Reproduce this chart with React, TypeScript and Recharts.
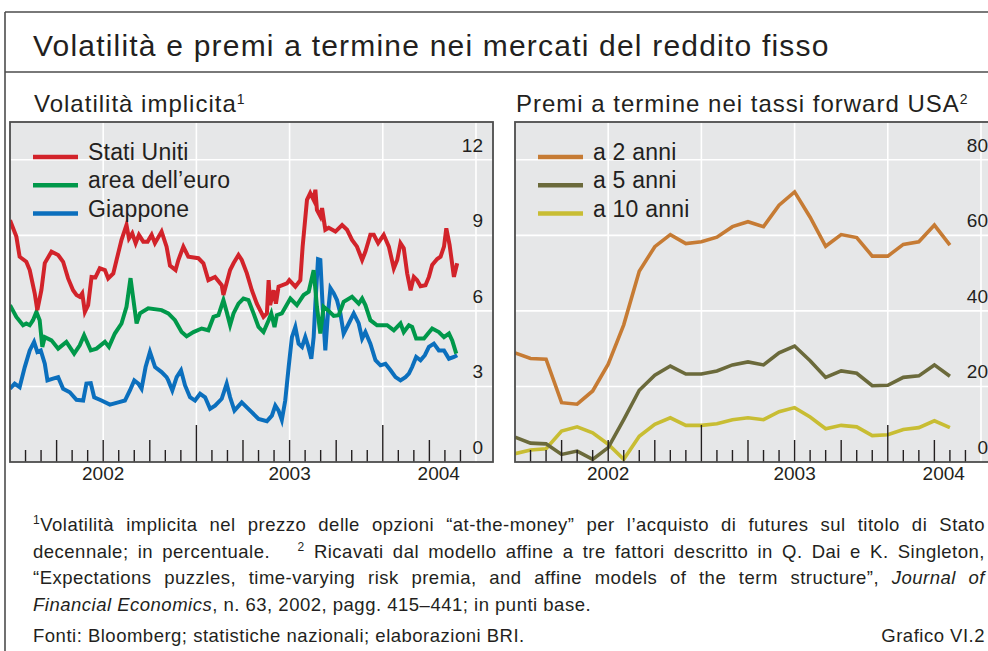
import React from 'react';
import { LineChart, Line, XAxis, YAxis, CartesianGrid } from 'recharts';

const FONT = '"Liberation Sans", Arial, sans-serif';
const INK = '#231f20';
const FRAME = '#4d4d4d';
const PLOT_BG = '#e6e7e8';

// x is measured in months from the start of January 2002
const X_MAX = 31.16;
const PLOT_W = 483;
const PLOT_H = 340;

const monthTicks = [1, 2, 3, 4, 5, 6, 7, 8, 9, 10, 11, 12, 13, 14, 15, 16, 17, 18, 19, 20, 21, 22, 23, 24, 25, 26, 27, 28, 29];
const gridMonths = [6, 12, 18, 24, 30];
const yearTickPos = [6, 18, 27.6];
const yearLabels = ['2002', '2003', '2004'];

const volTicks = [0, 3, 6, 9, 12];
const premTicks = [0, 20, 40, 60, 80];

// implied volatility, [month, percent]
const usVol: [number, number][] = [
  [0, 9.6], [0.41, 8.95], [0.62, 8.15], [1.05, 7.95], [1.27, 7.62], [1.59, 6.7], [1.76, 6.03], [2.02, 6.82],
  [2.24, 7.9], [2.67, 8.35], [3.1, 8.22], [3.42, 7.95], [3.74, 7.29], [4.06, 6.82], [4.28, 6.63], [4.49, 6.56],
  [4.65, 6.7], [4.82, 5.96], [5.03, 6.23], [5.25, 7.35], [5.5, 7.33], [5.78, 7.69], [6.11, 7.62], [6.32, 7.29],
  [6.65, 7.49], [6.86, 8.02], [7.18, 8.82], [7.5, 9.41], [7.66, 8.88], [7.87, 9.08], [8.09, 8.69], [8.3, 9.02],
  [8.58, 8.75], [8.86, 8.75], [9.12, 9.02], [9.33, 8.69], [9.76, 9.15], [10.08, 8.55], [10.3, 7.8], [10.66, 7.62],
  [10.84, 8.02], [11.16, 8.55], [11.48, 8.15], [12.13, 8.09], [12.45, 7.89], [12.77, 7.22], [13.2, 7.35], [13.63, 7.02],
  [13.74, 6.63], [14.17, 7.62], [14.39, 7.89], [14.71, 8.22], [14.92, 8.02], [15.25, 7.49], [15.57, 6.82], [15.89, 6.29],
  [16.32, 5.76], [16.54, 5.9], [16.65, 7.22], [16.75, 6.23], [16.97, 6.82], [17.12, 6.29], [17.29, 6.96], [17.83, 7.09],
  [17.98, 7.22], [18.37, 6.96], [18.69, 7.22], [18.84, 8.55], [19.12, 10.41], [19.33, 10.68], [19.55, 10.41], [19.66, 10.81],
  [19.76, 10.01], [19.98, 9.75], [20.09, 10.08], [20.3, 9.22], [20.52, 9.3], [20.95, 9.15], [21.38, 9.41], [21.7, 9.22],
  [22.02, 8.82], [22.34, 8.55], [22.67, 8.02], [22.88, 8.35], [23.2, 9.02], [23.42, 9.02], [23.7, 8.69], [24.06, 9.02],
  [24.39, 8.55], [24.71, 7.69], [24.93, 8.02], [25.14, 8.69], [25.35, 8.49], [25.57, 7.49], [25.79, 6.82], [26.0, 7.35],
  [26.21, 7.22], [26.43, 6.98], [26.75, 7.02], [26.97, 7.35], [27.18, 7.82], [27.5, 8.06], [27.72, 8.15], [27.94, 8.55],
  [28.09, 9.28], [28.3, 8.62], [28.58, 7.35], [28.79, 7.89],
];

const euroVol: [number, number][] = [
  [0, 6.23], [0.41, 5.76], [0.84, 5.43], [1.05, 5.5], [1.27, 5.43], [1.48, 5.63], [1.7, 5.96], [1.91, 5.63],
  [2.08, 4.57], [2.24, 4.96], [2.67, 4.83], [3.1, 4.5], [3.63, 4.77], [4.13, 4.3], [4.49, 4.63], [4.77, 5.03],
  [5.2, 4.43], [5.57, 4.5], [6.11, 4.77], [6.37, 4.57], [6.75, 5.1], [7.18, 5.5], [7.5, 6.16], [7.76, 7.3],
  [8.15, 5.5], [8.37, 5.9], [8.9, 6.1], [9.76, 6.03], [10.19, 5.9], [10.62, 5.63], [11.05, 5.16], [11.37, 4.99],
  [11.81, 5.16], [12.34, 5.3], [12.77, 5.23], [13.1, 5.76], [13.42, 5.83], [13.74, 6.43], [13.95, 5.96], [14.17, 5.43],
  [14.39, 5.9], [14.71, 6.29], [15.03, 6.49], [15.35, 6.43], [15.68, 5.9], [16.0, 5.36], [16.32, 5.16], [16.65, 5.63],
  [16.82, 5.9], [17.03, 5.36], [17.18, 5.83], [17.5, 5.9], [18.05, 6.49], [18.47, 6.23], [18.9, 6.63], [19.23, 6.76],
  [19.55, 7.62], [19.76, 6.16], [19.98, 5.1], [20.19, 6.16], [20.52, 6.0], [20.84, 5.8], [21.16, 5.83], [21.48, 6.36],
  [22.02, 6.56], [22.45, 6.29], [22.67, 6.49], [22.88, 6.23], [23.2, 5.63], [23.63, 5.43], [24.28, 5.43], [24.71, 5.23],
  [25.14, 5.5], [25.35, 5.16], [25.68, 5.43], [25.89, 5.36], [26.15, 4.9], [26.65, 4.9], [27.18, 5.3], [27.61, 5.16],
  [27.94, 4.96], [28.26, 5.1], [28.47, 4.83], [28.73, 4.3],
];

const japanVol: [number, number][] = [
  [0, 2.91], [0.3, 3.11], [0.62, 2.97], [0.95, 3.77], [1.27, 4.43], [1.55, 4.77], [1.76, 4.37], [1.98, 4.43],
  [2.24, 3.9], [2.41, 3.24], [2.77, 3.31], [3.1, 3.37], [3.42, 2.91], [3.85, 2.77], [4.28, 2.47], [4.71, 2.44],
  [4.92, 3.11], [5.2, 3.13], [5.42, 2.57], [5.89, 2.44], [6.43, 2.28], [6.97, 2.37], [7.4, 2.44], [7.72, 2.84],
  [8.0, 3.24], [8.26, 3.11], [8.47, 2.91], [8.73, 3.77], [9.01, 4.37], [9.34, 3.77], [9.76, 3.57], [10.08, 3.37],
  [10.19, 3.24], [10.45, 2.84], [10.73, 3.37], [11.01, 3.64], [11.27, 3.04], [11.59, 2.57], [11.91, 2.44], [12.24, 2.71],
  [12.56, 2.57], [12.88, 2.11], [13.2, 2.24], [13.63, 2.51], [13.95, 3.11], [14.17, 2.57], [14.45, 2.04], [14.92, 2.37],
  [15.46, 2.04], [16.0, 1.71], [16.54, 1.62], [16.86, 1.84], [17.08, 2.24], [17.29, 2.04], [17.5, 1.67], [17.72, 2.44],
  [17.94, 3.77], [18.15, 4.96], [18.37, 5.36], [18.58, 4.7], [18.8, 4.57], [19.01, 4.96], [19.18, 4.63], [19.4, 4.1],
  [19.55, 4.96], [19.66, 6.29], [19.83, 8.05], [19.98, 8.02], [20.13, 6.16], [20.3, 4.43], [20.47, 5.9], [20.63, 6.9],
  [20.84, 6.7], [21.05, 6.43], [21.27, 5.9], [21.48, 5.1], [21.81, 5.5], [22.13, 5.9], [22.45, 5.5], [22.67, 4.9],
  [22.88, 5.16], [23.2, 4.7], [23.53, 4.04], [23.85, 3.84], [24.17, 3.9], [24.5, 3.64], [24.82, 3.37], [25.14, 3.24],
  [25.46, 3.37], [25.68, 3.51], [25.89, 3.77], [26.15, 4.17], [26.43, 4.04], [26.71, 4.24], [26.97, 4.57], [27.29, 4.7],
  [27.61, 4.43], [27.94, 4.43], [28.26, 4.1], [28.58, 4.17], [28.79, 4.24],
];

// US forward term premia, monthly Jan 2002 - May 2004, basis points
const premMonths = [0, 1, 2, 3, 4, 5, 6, 7, 8, 9, 10, 11, 12, 13, 14, 15, 16, 17, 18, 19, 20, 21, 22, 23, 24, 25, 26, 27, 28];
const prem2y = [28.9, 27.4, 27.2, 15.7, 15.3, 18.8, 25.9, 36.3, 50.5, 57.0, 60.2, 57.8, 58.3, 59.5, 62.3, 63.6, 62.3, 68.0, 71.5, 64.8, 57.1, 60.2, 59.4, 54.5, 54.5, 57.6, 58.3, 62.7, 57.4];
const prem5y = [6.6, 5.0, 4.8, 2.0, 2.9, 0.7, 3.8, 11.2, 19.0, 23.0, 25.4, 23.3, 23.3, 24.1, 25.7, 26.5, 25.7, 28.9, 30.7, 26.8, 22.4, 24.1, 23.5, 20.2, 20.3, 22.4, 22.8, 25.7, 22.7];
const prem10y = [2.2, 3.2, 3.5, 8.2, 9.3, 7.7, 4.7, 0.7, 6.8, 10.0, 11.7, 9.7, 9.7, 10.1, 11.2, 11.7, 11.2, 13.3, 14.4, 11.9, 8.8, 9.7, 9.3, 7.0, 7.2, 8.6, 9.1, 10.9, 9.1];

const toPoints = (pairs: [number, number][]) => pairs.map(([m, v]) => ({ m, v }));
const monthly = (vals: number[]) => vals.map((v, i) => ({ m: premMonths[i], v }));

const volSeries = [
  { name: 'Japan', data: toPoints(japanVol), color: '#0b6fbd' },
  { name: 'Euro', data: toPoints(euroVol), color: '#00984a' },
  { name: 'US', data: toPoints(usVol), color: '#d2232a' },
];
const premSeries = [
  { name: '10', data: monthly(prem10y), color: '#c8bd33' },
  { name: '5', data: monthly(prem5y), color: '#6b6a3b' },
  { name: '2', data: monthly(prem2y), color: '#c67b34' },
];

const volLegend = [
  { label: 'Stati Uniti', color: '#d2232a' },
  { label: 'area dell’euro', color: '#00984a' },
  { label: 'Giappone', color: '#0b6fbd' },
];
const premLegend = [
  { label: 'a 2 anni', color: '#c67b34' },
  { label: 'a 5 anni', color: '#6b6a3b' },
  { label: 'a 10 anni', color: '#c8bd33' },
];

const MonthTick = (props: any) => {
  const { x, y, payload } = props;
  const m = payload.value;
  const len = m % 12 === 0 ? 37 : m % 3 === 0 ? 22 : 12;
  return <line x1={x} x2={x} y1={y} y2={y - len} stroke={INK} strokeWidth={1.4} />;
};

const ValueTick = (props: any) => {
  const { y, payload } = props;
  return (
    <text x={PLOT_W - 10} y={y - 8} textAnchor="end" fontSize={19} fill={INK} fontFamily={FONT}>
      {payload.value}
    </text>
  );
};

const YearTick = (props: any) => {
  const { x, y, payload } = props;
  return (
    <text x={x} y={y + 17} textAnchor="middle" fontSize={19} fill={INK} fontFamily={FONT}>
      {yearLabels[yearTickPos.indexOf(payload.value)]}
    </text>
  );
};

function Panel({ left, series, domain, ticks, width }: any) {
  return (
    <div style={{ position: 'absolute', left, top: 122 }}>
      <LineChart width={PLOT_W + 1} height={PLOT_H + 30} margin={{ top: 0, right: 0, bottom: 0, left: 0 }}>
        <CartesianGrid
          xAxisId="m"
          fill={PLOT_BG}
          fillOpacity={1}
          stroke="#ffffff"
          strokeWidth={1.6}
          verticalValues={gridMonths}
          horizontalValues={ticks.filter((t: number) => t > 0)}
        />
        <XAxis
          xAxisId="m"
          type="number"
          dataKey="m"
          domain={[0, X_MAX]}
          allowDataOverflow
          ticks={monthTicks}
          interval={0}
          height={1}
          axisLine={false}
          tickLine={false}
          tickSize={0}
          tickMargin={0}
          tick={<MonthTick />}
        />
        <XAxis
          xAxisId="yr"
          type="number"
          dataKey="m"
          domain={[0, X_MAX]}
          allowDataOverflow
          ticks={yearTickPos}
          interval={0}
          height={29}
          axisLine={false}
          tickLine={false}
          tickSize={0}
          tickMargin={0}
          tick={<YearTick />}
        />
        <YAxis
          type="number"
          orientation="right"
          mirror
          width={1}
          domain={domain}
          allowDataOverflow
          ticks={ticks}
          interval={0}
          axisLine={false}
          tickLine={false}
          tickSize={0}
          tickMargin={0}
          tick={<ValueTick />}
        />
        {series.map((s: any) => (
          <Line
            key={s.name}
            xAxisId="m"
            data={s.data}
            dataKey="v"
            type="linear"
            stroke={s.color}
            strokeWidth={width}
            dot={false}
            activeDot={false}
            isAnimationActive={false}
          />
        ))}
      </LineChart>
    </div>
  );
}

function LegendBlock({ x, items }: any) {
  return (
    <g>
      {items.map((it: any, i: number) => (
        <g key={it.label}>
          <line x1={x} x2={x + 45} y1={157 + i * 28.3} y2={157 + i * 28.3} stroke={it.color} strokeWidth={4.5} />
          <text x={x + 55} y={160 + i * 28.3} fontSize={23} letterSpacing={0.2} fill={INK} fontFamily={FONT}>
            {it.label}
          </text>
        </g>
      ))}
    </g>
  );
}

const Sup = ({ n }: { n: string }) => (
  <span style={{ fontSize: 12, position: 'relative', top: -7, lineHeight: 0 }}>{n}</span>
);

export default function App() {
  const footStyle: React.CSSProperties = {
    position: 'absolute',
    left: 33,
    width: 952,
    fontSize: 18.5,
    letterSpacing: 0.5,
    lineHeight: '26.5px',
    color: INK,
    whiteSpace: 'nowrap',
    textAlign: 'justify',
    textAlignLast: 'justify',
  };
  const plain: React.CSSProperties = { textAlign: 'left', textAlignLast: 'left' };
  return (
    <div
      style={{
        position: 'absolute',
        left: 0,
        top: 0,
        width: 988,
        height: 651,
        overflow: 'hidden',
        background: '#ffffff',
        fontFamily: FONT,
      }}
    >
      <Panel left={10} series={volSeries} domain={[0, 13.5]} ticks={volTicks} width={4} />
      <Panel left={515} series={premSeries} domain={[0, 90]} ticks={premTicks} width={3.6} />

      <svg width={988} height={651} style={{ position: 'absolute', left: 0, top: 0, pointerEvents: 'none' }}>
        <line x1={5} x2={988} y1={12} y2={12} stroke={FRAME} strokeWidth={1.6} />
        <line x1={5} x2={5} y1={12} y2={651} stroke={FRAME} strokeWidth={1.6} />
        <line x1={5} x2={988} y1={72} y2={72} stroke={FRAME} strokeWidth={1.6} />
        <rect x={10} y={122} width={PLOT_W} height={PLOT_H} fill="none" stroke={FRAME} strokeWidth={1.8} />
        <rect x={515} y={122} width={PLOT_W} height={PLOT_H} fill="none" stroke={FRAME} strokeWidth={1.8} />

        <text x={33} y={55.5} fontSize={30} letterSpacing={1.2} fill={INK} fontFamily={FONT}>
          Volatilità e premi a termine nei mercati del reddito fisso
        </text>
        <text x={34} y={112.3} fontSize={24} letterSpacing={1} fill={INK} fontFamily={FONT}>
          Volatilità implicita<tspan fontSize={14} dy={-8}>1</tspan>
        </text>
        <text x={516} y={112.3} fontSize={24} letterSpacing={1} fill={INK} fontFamily={FONT}>
          Premi a termine nei tassi forward USA<tspan fontSize={14} dy={-8}>2</tspan>
        </text>

        <LegendBlock x={33} items={volLegend} />
        <LegendBlock x={538} items={premLegend} />
      </svg>

      <div style={{ ...footStyle, top: 512 }}>
        <Sup n="1" />Volatilità implicita nel prezzo delle opzioni “at-the-money” per l’acquisto di futures sul titolo di Stato
      </div>
      <div style={{ ...footStyle, top: 538.5 }}>
        decennale; in percentuale.&nbsp;&nbsp; <Sup n="2" /> Ricavati dal modello affine a tre fattori descritto in Q. Dai e K. Singleton,
      </div>
      <div style={{ ...footStyle, top: 565 }}>
        “Expectations puzzles, time-varying risk premia, and affine models of the term structure”, <i>Journal of</i>
      </div>
      <div style={{ ...footStyle, ...plain, top: 591.5 }}>
        <i>Financial Economics</i>, n. 63, 2002, pagg. 415–441; in punti base.
      </div>
      <div style={{ ...footStyle, ...plain, top: 623 }}>
        Fonti: Bloomberg; statistiche nazionali; elaborazioni BRI.
      </div>
      <div
        style={{
          position: 'absolute',
          right: 3,
          top: 623,
          fontSize: 18.5,
          letterSpacing: 0.5,
          lineHeight: '26.5px',
          color: INK,
        }}
      >
        Grafico VI.2
      </div>
    </div>
  );
}
